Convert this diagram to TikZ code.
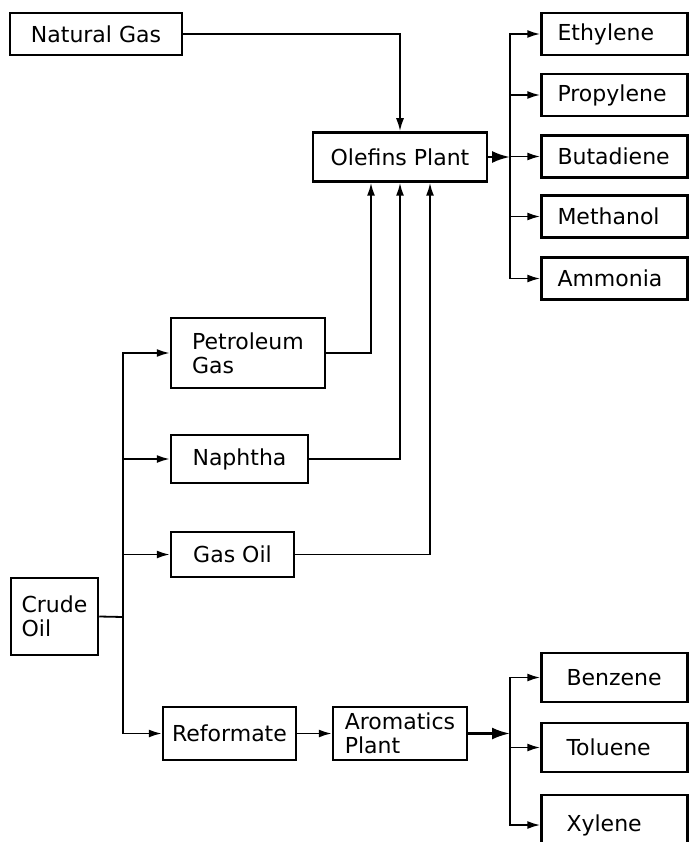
\documentclass[tikz,border=0pt]{standalone}
\usepackage{fontspec}
\setmainfont{DejaVu Sans}
\usetikzlibrary{arrows.meta,positioning,calc}

\begin{document}
\begin{tikzpicture}[x=1pt,y=-1pt,
  font=\fontsize{22}{24}\selectfont,
  box/.style={draw,line width=2.5pt,rectangle,align=left,inner xsep=8pt,inner ysep=4pt},
  prod/.style={box,minimum width=146pt,minimum height=42pt,text width=114pt,inner xsep=16pt},
  prodb/.style={box,minimum width=146pt,minimum height=49pt,text width=96pt,inner xsep=25pt},
  msg/.style={-{Latex[length=13pt,width=8pt]},line width=1.8pt},
  big/.style={-{Latex[length=18pt,width=12pt]},line width=2.6pt},
  wire/.style={line width=1.8pt},
]
  \clip (0,0) rectangle (689,842);

  \node[box,minimum width=172pt,minimum height=42pt] (natgas) at (96,34) {Natural Gas};
  \node[box,minimum width=174pt,minimum height=49pt] (olefins) at (400,157) {Olefins Plant};
  \node[box,minimum width=154pt,minimum height=70pt] (petgas) at (248,353) {Petroleum\\Gas};
  \node[box,minimum width=137pt,minimum height=48pt] (naphtha) at (239.5,459) {Naphtha};
  \node[box,minimum width=123pt,minimum height=45pt] (gasoil) at (232.5,554.5) {Gas Oil};
  \node[box,minimum width=87pt,minimum height=77pt] (crude) at (54.5,616.5) {Crude\\Oil};
  \node[box,minimum width=133pt,minimum height=53pt] (reformate) at (229.5,733.5) {Reformate};
  \node[box,minimum width=134pt,minimum height=53pt] (aromatics) at (400,733.5) {Aromatics\\Plant};

  \coordinate (olsplit) at (510,157);
  \coordinate (crsplit) at (123,617);
  \coordinate (arsplit) at (510,733.5);

  \foreach \i/\name/\y in {1/Ethylene/34,2/Propylene/95,3/Butadiene/156.5,4/Methanol/216.5,5/Ammonia/278.5} {
    \node[prod] (p\i) at (614.5,\y) {\name};
    \draw[msg] (olsplit) |- (p\i.west);
  }
  \foreach \i/\name/\y/\h in {1/Benzene/677.5/49,2/Toluene/747.5/49,3/Xylene/825/60} {
    \node[prodb,minimum height=\h pt] (a\i) at (614.5,\y) {\name};
    \draw[msg] (arsplit) |- (a\i.west);
  }

  \draw[msg] (natgas.east) -| (olefins.north);
  \draw[msg] (petgas.east) -| ([xshift=-29pt]olefins.south);
  \draw[msg] (naphtha.east) -| (olefins.south);
  \draw[msg] (gasoil.east) -| ([xshift=30pt]olefins.south);
  \draw[big] (olefins.east) -- (olsplit);

  \draw[wire] (crude.east) -- (crsplit);
  \foreach \n in {petgas,naphtha,gasoil,reformate}
    \draw[msg] (crsplit) |- (\n.west);
  \draw[msg] (reformate) -- (aromatics);
  \draw[big] (aromatics.east) -- (arsplit);
\end{tikzpicture}
\end{document}
